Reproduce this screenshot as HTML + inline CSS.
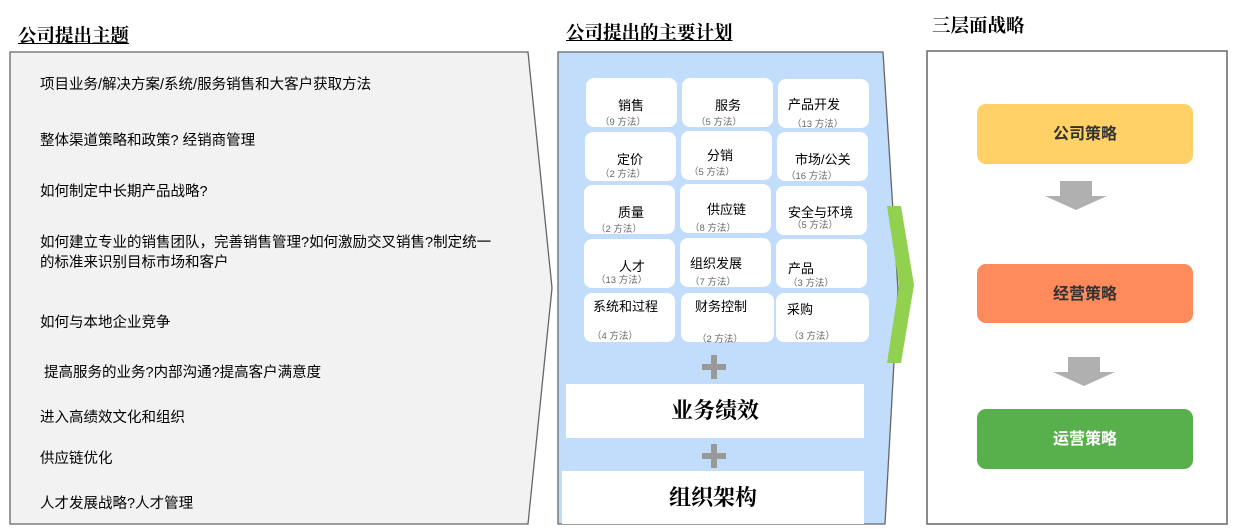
<!DOCTYPE html>
<html><head><meta charset="utf-8"><style>
body{margin:0;width:1235px;height:529px;background:#fff;position:relative;overflow:hidden;font-family:"Liberation Sans","Noto Sans CJK SC",sans-serif;}
.a{position:absolute;white-space:nowrap}
.t{font-family:"Liberation Serif","Noto Serif CJK SC",serif;font-weight:bold;font-size:18.5px;color:#000}
.l{font-size:14.5px;color:#000;left:40px}
.c{position:absolute;background:#fff;border-radius:8px;width:91px;height:49px;font-size:13px;color:#000}
.c span{position:absolute;white-space:nowrap}
.c i{position:absolute;font-style:normal;font-size:9.5px;color:#666;white-space:nowrap}
.s{position:absolute;left:977px;width:216px;height:60px;border-radius:9px;text-align:center;line-height:62px;font-size:16px;font-weight:bold;color:#333}
</style></head><body>
<svg class="a" style="left:0;top:0" width="1235" height="529">
<polygon points="10,52 528,52 552,288 528,524 10,524" fill="#f2f2f2" stroke="#666" stroke-width="1.3"/>
<polygon points="558,52 883,52 898,290 885,524 558,524" fill="#c2dcfc" stroke="#666" stroke-width="1.3"/>
<polygon points="887,206 901,206 914,285 901,363 887,363 899,285" fill="#92d050"/>
<rect x="927" y="51" width="300" height="473" fill="#fff" stroke="#666" stroke-width="1.5"/>
<polygon points="1060,181 1092,181 1092,196 1107,196 1076,210 1045,196 1060,196" fill="#b0b0b0"/>
<polygon points="1068,357 1100,357 1100,372 1115,372 1084,386 1053,372 1068,372" fill="#b0b0b0"/>
<rect x="711" y="355" width="6" height="24" fill="#999"/><rect x="702" y="364" width="24" height="6" fill="#999"/>
<rect x="711" y="444" width="6" height="24" fill="#999"/><rect x="702" y="453" width="24" height="6" fill="#999"/>
</svg>
<div class="a t" style="left:18px;top:22px;text-decoration:underline">公司提出主题</div>
<div class="a t" style="left:566px;top:19px;text-decoration:underline">公司提出的主要计划</div>
<div class="a t" style="left:932px;top:12px">三层面战略</div>
<div class="a l" style="top:73px">项目业务/解决方案/系统/服务销售和大客户获取方法</div>
<div class="a l" style="top:129px">整体渠道策略和政策? 经销商管理</div>
<div class="a l" style="top:180px">如何制定中长期产品战略?</div>
<div class="a l" style="top:233px;line-height:20px">如何建立专业的销售团队，完善销售管理?如何激励交叉销售?制定统一<br>的标准来识别目标市场和客户</div>
<div class="a l" style="top:311px">如何与本地企业竞争</div>
<div class="a l" style="top:361px;left:44px">提高服务的业务?内部沟通?提高客户满意度</div>
<div class="a l" style="top:406px">进入高绩效文化和组织</div>
<div class="a l" style="top:447px">供应链优化</div>
<div class="a l" style="top:492px">人才发展战略?人才管理</div>

<div class="c" style="left:586px;top:78px"><span style="left:32px;top:17px">销售</span><i style="left:14px;top:36px">（9 方法）</i></div>
<div class="c" style="left:682px;top:78px"><span style="left:33px;top:17px">服务</span><i style="left:14px;top:36px">（5 方法）</i></div>
<div class="c" style="left:778px;top:79px"><span style="left:10px;top:15px">产品开发</span><i style="left:14px;top:37px">（13 方法）</i></div>
<div class="c" style="left:585px;top:132px"><span style="left:32px;top:17px">定价</span><i style="left:15px;top:34px">（2 方法）</i></div>
<div class="c" style="left:681px;top:131px"><span style="left:26px;top:14px">分销</span><i style="left:8px;top:33px">（5 方法）</i></div>
<div class="c" style="left:777px;top:132px"><span style="left:18px;top:17px">市场/公关</span><i style="left:9px;top:36px">（16 方法）</i></div>
<div class="c" style="left:584px;top:185px"><span style="left:34px;top:17px">质量</span><i style="left:12px;top:36px">（2 方法）</i></div>
<div class="c" style="left:680px;top:184px"><span style="left:27px;top:15px">供应链</span><i style="left:10px;top:36px">（8 方法）</i></div>
<div class="c" style="left:776px;top:186px"><span style="left:12px;top:16px">安全与环境</span><i style="left:16px;top:31px">（5 方法）</i></div>
<div class="c" style="left:584px;top:239px"><span style="left:35px;top:17px">人才</span><i style="left:12px;top:33px">（13 方法）</i></div>
<div class="c" style="left:680px;top:238px"><span style="left:10px;top:15px">组织发展</span><i style="left:10px;top:36px">（7 方法）</i></div>
<div class="c" style="left:776px;top:239px"><span style="left:12px;top:19px">产品</span><i style="left:12px;top:36px">（3 方法）</i></div>
<div class="c" style="left:584px;top:293px"><span style="left:9px;top:3px">系统和过程</span><i style="left:8px;top:35px">（4 方法）</i></div>
<div class="c" style="left:681px;top:293px;width:93px"><span style="left:14px;top:3px">财务控制</span><i style="left:16px;top:38px">（2 方法）</i></div>
<div class="c" style="left:776px;top:293px;width:93px"><span style="left:11px;top:6px">采购</span><i style="left:13px;top:35px">（3 方法）</i></div>

<div class="a" style="left:566px;top:384px;width:298px;height:54px;background:#fff;text-align:center;line-height:54px;font-size:22px;font-weight:bold;font-family:'Liberation Serif','Noto Serif CJK SC',serif">业务绩效</div>
<div class="a" style="left:562px;top:471px;width:302px;height:53px;background:#fff;text-align:center;line-height:53px;font-size:22px;font-weight:bold;font-family:'Liberation Serif','Noto Serif CJK SC',serif">组织架构</div>

<div class="s" style="top:104px;background:#ffd166">公司策略</div>
<div class="s" style="top:264px;height:59px;line-height:61px;background:#ff8a5c">经营策略</div>
<div class="s" style="top:409px;background:#58b04c;color:#fff">运营策略</div>
</body></html>
